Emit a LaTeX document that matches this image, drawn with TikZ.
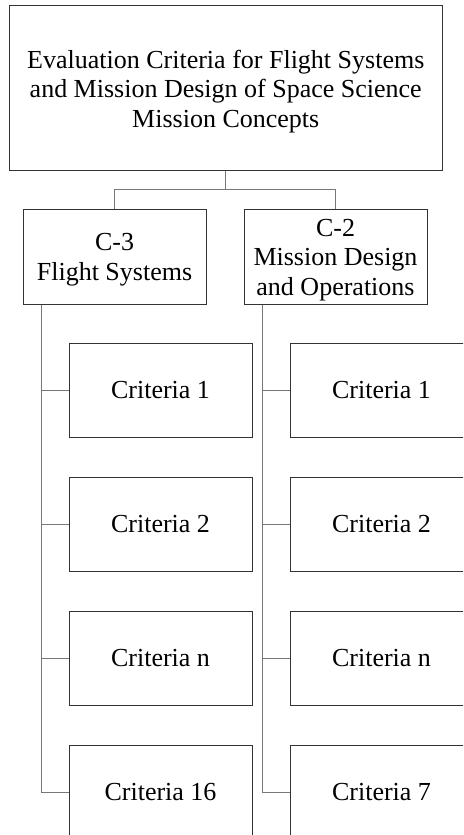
\documentclass[tikz,border=0pt]{standalone}
\usepackage{fontspec}
\setmainfont{Liberation Serif}
\usetikzlibrary{calc}
\definecolor{boxline}{HTML}{333333}
\definecolor{conline}{HTML}{777777}
\newcommand{\upstrut}[1]{\rule{0pt}{#1}}
\begin{document}
\begin{tikzpicture}[x=1pt,y=-1pt,
  box/.style={draw=boxline,line width=1pt,align=center,inner sep=0pt,
    font=\fontsize{26}{29.5}\selectfont,minimum width=183pt},
  critbox/.style={box,minimum height=94pt},
  con/.style={draw=conline,line width=1pt}]
\useasboundingbox (0,0) rectangle (463,835);
\clip (0,0) rectangle (463,835);
\fill[white] (0,0) rectangle (463,835);
\node[box,minimum width=432.5pt,minimum height=165pt] (top) at (225.75,87.5)
  {\upstrut{26.5pt}Evaluation Criteria for Flight Systems\\and Mission Design of Space Science\\Mission Concepts};
\node[box,minimum height=95pt] (c3) at (114.5,256.5) {\upstrut{24pt}C-3\\Flight Systems};
\node[box,minimum height=95pt] (c2) at (335.5,256.5) {\upstrut{24pt}C-2\\Mission Design\\and Operations};
\node[critbox] (l1) at (160.5,390) {Criteria 1};
\node[critbox] (l2) at (160.5,524) {Criteria 2};
\node[critbox] (ln) at (160.5,658) {Criteria n};
\node[critbox] (l16) at (160.5,792) {Criteria 16};
\node[critbox] (r1) at (381.5,390) {Criteria 1};
\node[critbox] (r2) at (381.5,524) {Criteria 2};
\node[critbox] (rn) at (381.5,658) {Criteria n};
\node[critbox] (r7) at (381.5,792) {Criteria 7};
\coordinate (bus) at ($(top.south)+(0,19)$);
\draw[con] (top.south) -- (bus);
\draw[con] (bus) -| (c3.north);
\draw[con] (bus) -| (c2.north);
\coordinate (lt) at ($(c3.south west)+(19,0)$);
\coordinate (rt) at ($(c2.south west)+(19,0)$);
\draw[con] (lt) |- (l16.west);
\draw[con] (rt) |- (r7.west);
\foreach \n in {l1,l2,ln}{\draw[con] (lt |- \n.west) -- (\n.west);}
\foreach \n in {r1,r2,rn}{\draw[con] (rt |- \n.west) -- (\n.west);}
\end{tikzpicture}
\end{document}
